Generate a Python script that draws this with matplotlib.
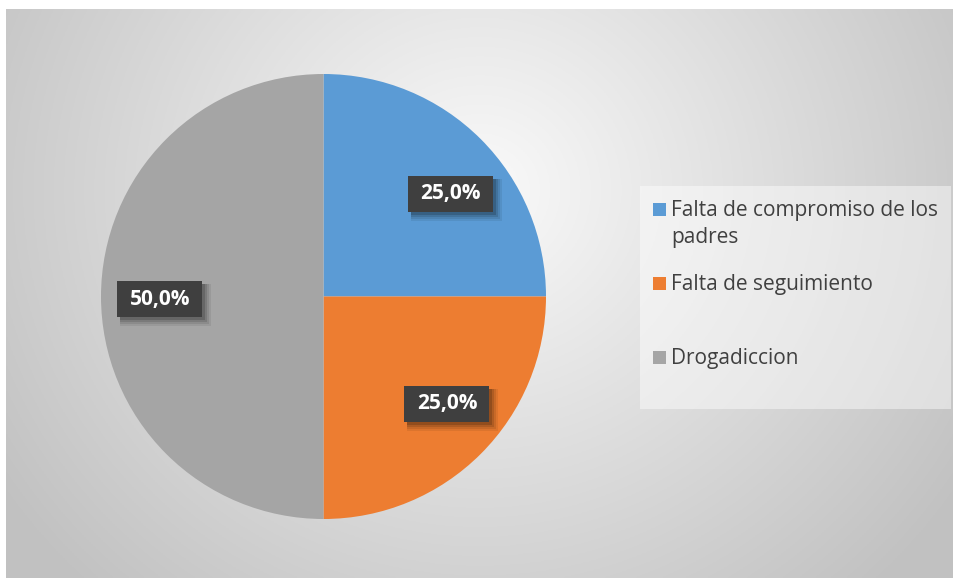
import matplotlib

matplotlib.use("Agg")
import matplotlib.pyplot as plt
import numpy as np
from matplotlib.patches import Rectangle

# data
categories = ["Falta de compromiso de los\npadres", "Falta de seguimiento", "Drogadiccion"]
shares = [25.0, 25.0, 50.0]
colors = ["#5b9bd5", "#ed7d31", "#a5a5a5"]
pct_labels = [f"{v:.1f}%".replace(".", ",") for v in shares]

W, H = 954, 579
FONT = "Open Sans"
TEXT_COLOR = "#404040"

fig = plt.figure(figsize=(W / 100, H / 100), dpi=100)
fig.patch.set_facecolor("white")


def px_rect(x0, y0, x1, y1):
    """Figure-fraction rect from pixel box (origin top-left)."""
    return [x0 / W, 1 - y1 / H, (x1 - x0) / W, (y1 - y0) / H]


# radial-ish background of the chart area
bg = fig.add_axes(px_rect(6, 9, 954, 578))
bg.set_axis_off()
gx, gy = np.meshgrid(np.linspace(6, 954, 400), np.linspace(9, 578, 250))
dist = np.hypot(gx - 480, (gy - 190) / 0.95)
val = np.clip(0.98 - 0.2 * dist / 520, 0.76, 1.0)
bg.imshow(np.dstack([val, val, val]), extent=[0, 1, 0, 1], aspect="auto", origin="upper")
bg.set_xlim(0, 1)
bg.set_ylim(0, 1)

# pie
cx, cy, r = 323.5, 296.5, 222.5
ax = fig.add_axes(px_rect(cx - r, cy - r, cx + r, cy + r))
ax.set_axis_off()
wedges, _ = ax.pie(shares, colors=colors, startangle=90, counterclock=False,
                   radius=1.0, wedgeprops=dict(linewidth=0))
ax.set_xlim(-1, 1)
ax.set_ylim(-1, 1)

# data labels: dark boxes with a soft drop shadow
label_angles = [39, -41, 181]
label_r = 0.735
box_w, box_h = 85 / r, 36 / r
for txt, ang in zip(pct_labels, label_angles):
    x = label_r * np.cos(np.radians(ang))
    y = label_r * np.sin(np.radians(ang))
    for k, a in enumerate([0.07, 0.09, 0.12, 0.16]):
        off = (6 - k) / r
        grow = (3 - k) / r
        ax.add_patch(Rectangle((x - box_w / 2 + off - grow, y - box_h / 2 - off - grow),
                               box_w + 2 * grow, box_h + 2 * grow,
                               fc="black", ec="none", alpha=a))
    ax.add_patch(Rectangle((x - box_w / 2, y - box_h / 2), box_w, box_h,
                           fc="#3f3f3f", ec="none"))
    ax.text(x, y, txt, ha="center", va="center", fontsize=15, fontweight="bold",
            family=FONT, color="white")

# legend panel
leg = fig.add_axes(px_rect(640, 186, 951, 409))
leg.set_xlim(640, 951)
leg.set_ylim(409, 186)
leg.set_axis_off()
leg.add_patch(Rectangle((640, 186), 311, 223, fc="white", ec="none", alpha=0.45))
for i, (name, col) in enumerate(zip(categories, colors)):
    ty = 209 + i * 74
    leg.add_patch(Rectangle((653, ty - 6.5), 13, 13, fc=col, ec="none"))
    leg.text(671, ty - 9, name, ha="left", va="top", fontsize=15, family=FONT,
             color=TEXT_COLOR, linespacing=1.35)

fig.savefig("out.png", dpi=100)
